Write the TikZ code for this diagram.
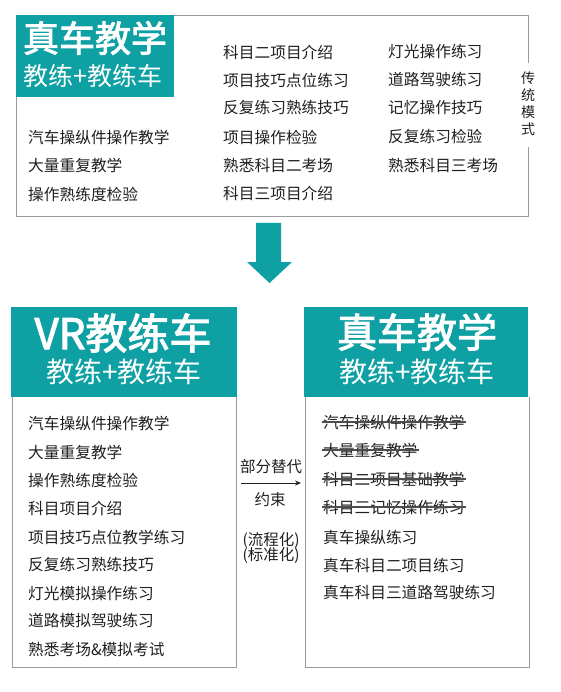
\documentclass[tikz,border=0pt]{standalone}
\usepackage{fontspec}
\setmainfont{Noto Sans CJK SC}
\newfontfamily\titlefont[FakeBold=2.5]{Noto Sans CJK SC}
\usetikzlibrary{arrows.meta}
\definecolor{tealc}{HTML}{0EA0A3}
\definecolor{bordc}{HTML}{9A9A9A}
\definecolor{txtc}{HTML}{202020}
\begin{document}
\begin{tikzpicture}[x=1pt,y=-1pt,
  item/.style={anchor=west, inner sep=0pt, text=txtc, font=\fontsize{15.7}{15.7}\selectfont},
  mid/.style={inner sep=0pt, text=txtc, font=\fontsize{15.5}{15.5}\selectfont},
  hdr/.style={fill=tealc, draw=none, inner sep=0pt, anchor=north west},
  ttl/.style={inner sep=0pt, text=white, font=\titlefont\fontsize{#1}{#1}\selectfont},
  sub/.style={inner sep=0pt, text=white, font=\fontsize{#1}{#1}\selectfont},
  boxline/.style={draw=bordc, line width=0.9pt},
  strike/.style={draw=txtc!80, line width=1.3pt}]
\useasboundingbox (0,0) rectangle (561,692);
\fill[white] (0,0) rectangle (561,692);

% ---------- top box ----------
\draw[boxline] (528,63) -- (528,15) -- (16,15) -- (16,216) -- (528,216) -- (528,147);
\node[hdr, minimum width=158, minimum height=82] (h0) at (16,15) {};
\node[ttl=36] (t0) at (95,38) {真车教学};
\node[sub=25] (s0) at (93,76) {教练+教练车};
\node[inner sep=0pt, text=txtc, align=center, font=\fontsize{14}{17}\selectfont] (side) at (528,104) {传\\统\\模\\式};

\node[item] (a1) at (28,137) {汽车操纵件操作教学};
\node[item] (a2) at (28,165) {大量重复教学};
\node[item] (a3) at (28,194) {操作熟练度检验};

\node[item] (b1) at (223,52) {科目二项目介绍};
\node[item] (b2) at (223,80) {项目技巧点位练习};
\node[item] (b3) at (223,108) {反复练习熟练技巧};
\node[item] (b4) at (223,137) {项目操作检验};
\node[item] (b5) at (223,165) {熟悉科目二考场};
\node[item] (b6) at (223,193) {科目三项目介绍};

\node[item] (c1) at (388,52) {灯光操作练习};
\node[item] (c2) at (388,80) {道路驾驶练习};
\node[item] (c3) at (388,108) {记忆操作技巧};
\node[item] (c4) at (388,137) {反复练习检验};
\node[item] (c5) at (388,165) {熟悉科目三考场};

% ---------- down arrow ----------
\fill[tealc] (256,223) -- (281,223) -- (281,262) -- (292,262) -- (269.5,283) -- (247,262) -- (256,262) -- cycle;

% ---------- bottom left ----------
\node[hdr, minimum width=226, minimum height=90] (h1) at (11,307) {};
\draw[boxline] (12,397) -- (12,667) -- (236,667) -- (236,397);
\node[ttl=42] (t1) at (123,333) {VR教练车};
\node[sub=28] (s1) at (124,372) {教练+教练车};

\node[item] (l1) at (28,423) {汽车操纵件操作教学};
\node[item] (l2) at (28,452) {大量重复教学};
\node[item] (l3) at (28,480) {操作熟练度检验};
\node[item] (l4) at (28,508) {科目项目介绍};
\node[item] (l5) at (28,537) {项目技巧点位教学练习};
\node[item] (l6) at (28,565) {反复练习熟练技巧};
\node[item] (l7) at (28,593) {灯光模拟操作练习};
\node[item] (l8) at (28,621) {道路模拟驾驶练习};
\node[item] (l9) at (28,649) {熟悉考场\&模拟考试};

% ---------- middle ----------
\node[mid] (m1) at (271,467) {部分替代};
\coordinate (ma) at (241,483);
\coordinate (mb) at (301,483);
\draw[txtc, line width=0.8pt, -{Stealth[length=6pt,width=5pt]}] (ma) -- (mb);
\node[mid] (m2) at (270,500) {约束};
\node[mid] (m3) at (271,541) {(流程化)};
\node[mid] (m4) at (271,556) {(标准化)};

% ---------- bottom right ----------
\node[hdr, minimum width=224, minimum height=90] (h2) at (304,307) {};
\draw[boxline] (305,397) -- (305,667) -- (529,667) -- (529,397);
\node[ttl=40] (t2) at (417,332) {真车教学};
\node[sub=28] (s2) at (417,372) {教练+教练车};

\node[item] (r1) at (323,422) {汽车操纵件操作教学};
\node[item] (r2) at (323,450) {大量重复教学};
\node[item] (r3) at (323,479) {科目二项目基础教学};
\node[item] (r4) at (323,507) {科目三记忆操作练习};
\node[item] (r5) at (323,537) {真车操纵练习};
\node[item] (r6) at (323,565) {真车科目二项目练习};
\node[item] (r7) at (323,593) {真车科目三道路驾驶练习};

\foreach \n in {r1,r2,r3,r4}
  \draw[strike] ([xshift=-1pt]\n.west) -- ([xshift=1pt]\n.east);
\end{tikzpicture}
\end{document}
